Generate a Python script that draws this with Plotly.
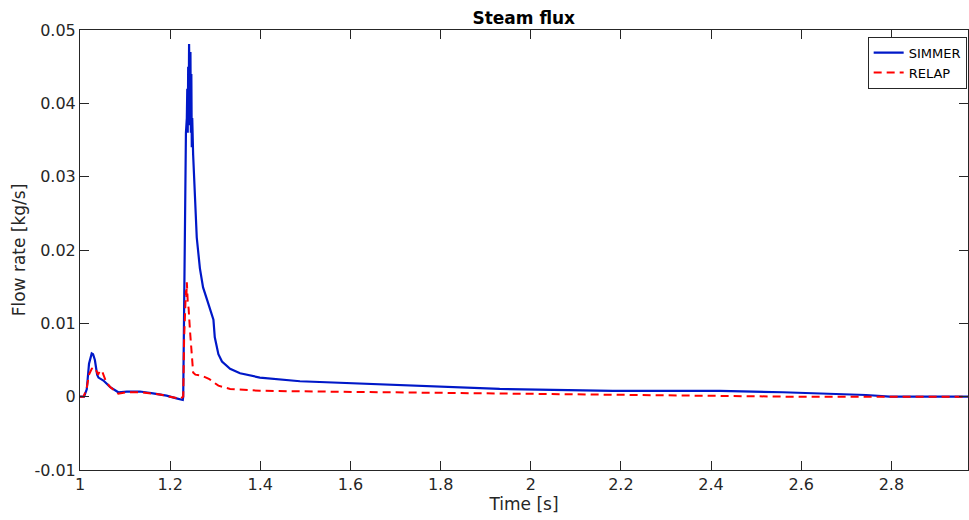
import plotly.graph_objects as go

# SIMMER (blue solid)
simmer_t = [1.000, 1.009, 1.015, 1.020, 1.026, 1.029, 1.033, 1.038, 1.041, 1.052,
            1.067, 1.085, 1.104, 1.133, 1.162, 1.192, 1.214, 1.228, 1.229, 1.231,
            1.233, 1.235, 1.237, 1.238, 1.239, 1.240, 1.241, 1.242, 1.244, 1.245,
            1.246, 1.247, 1.248, 1.249, 1.251, 1.255, 1.259, 1.266, 1.273, 1.282,
            1.292, 1.296, 1.299, 1.307, 1.315, 1.333, 1.355, 1.399, 1.488, 1.532,
            1.599, 1.710, 1.931, 2.182, 2.375, 2.419, 2.559, 2.641, 2.744, 2.796,
            2.970]
simmer_v = [0.0000, 0.0000, 0.0010, 0.0045, 0.0059, 0.0058, 0.0050, 0.0030, 0.0026, 0.0022,
            0.0013, 0.0006, 0.0007, 0.0007, 0.00045, 0.00014, -0.00023, -0.00045, 0.0000, 0.0150,
            0.0270, 0.0360, 0.0380, 0.0420, 0.0360, 0.0450, 0.0380, 0.0481, 0.0370, 0.0470,
            0.0360, 0.0440, 0.0340, 0.0380, 0.0330, 0.0260, 0.0217, 0.0175, 0.0149, 0.0132,
            0.0113, 0.0105, 0.0081, 0.0058, 0.0048, 0.0038, 0.0032, 0.0026, 0.0021, 0.0020,
            0.0018, 0.0015, 0.00105, 0.0008, 0.00075, 0.0008, 0.0006, 0.0004, 0.00023, 0.0000,
            0.0000]

# RELAP (red dashed)
relap_t = [1.000, 1.008, 1.015, 1.020, 1.026, 1.030, 1.035, 1.040, 1.045, 1.050,
           1.058, 1.067, 1.085, 1.104, 1.133, 1.177, 1.222, 1.229, 1.231, 1.233,
           1.235, 1.236, 1.237, 1.239, 1.241, 1.244, 1.247, 1.251, 1.256, 1.269,
           1.287, 1.296, 1.307, 1.333, 1.399, 1.532, 1.931, 2.153, 2.375, 2.574,
           2.970]
relap_v = [0.0000, 0.0000, 0.0012, 0.0030, 0.0038, 0.0040, 0.0037, 0.0030, 0.0036, 0.0033,
           0.0020, 0.0013, 0.0004, 0.0006, 0.0006, 0.0003, -0.0003, 0.0000, 0.0080, 0.0130,
           0.0145, 0.0135, 0.0156, 0.0130, 0.0120, 0.0090, 0.0063, 0.0033, 0.0030, 0.0029,
           0.0024, 0.0020, 0.0015, 0.00105, 0.0008, 0.0007, 0.00045, 0.00036, 0.00014, 0.0000,
           0.0000]

x_ticks = [1, 1.2, 1.4, 1.6, 1.8, 2, 2.2, 2.4, 2.6, 2.8]
x_labels = ["1", "1.2", "1.4", "1.6", "1.8", "2", "2.2", "2.4", "2.6", "2.8"]
y_ticks = [-0.01, 0, 0.01, 0.02, 0.03, 0.04, 0.05]
y_labels = ["-0.01", "0", "0.01", "0.02", "0.03", "0.04", "0.05"]

FONT = "DejaVu Sans"
AX = "#262626"

fig = go.Figure()
fig.add_trace(go.Scatter(x=simmer_t, y=simmer_v, mode="lines", name="SIMMER",
                         line=dict(color="#0018c8", width=2.2)))
fig.add_trace(go.Scatter(x=relap_t, y=relap_v, mode="lines", name="RELAP",
                         line=dict(color="#ff0000", width=2, dash="8px,5px")))

axis_common = dict(showline=True, linecolor=AX, linewidth=1, mirror="ticks",
                   ticks="inside", ticklen=9, tickcolor=AX, showgrid=False,
                   zeroline=False, tickfont=dict(family=FONT, size=16, color=AX))

fig.update_layout(
    width=969, height=520,
    margin=dict(l=80, r=1, t=30, b=50),
    paper_bgcolor="white", plot_bgcolor="white",
    title=dict(text="<b>Steam flux</b>", x=0.5405, xanchor="center", y=0.965, yanchor="middle",
               font=dict(family=FONT, size=17, color="black")),
    legend=dict(x=0.9985, xanchor="right", y=0.985, yanchor="top",
                bgcolor="white", bordercolor=AX, borderwidth=1,
                font=dict(family=FONT, size=13, color="black"),
                itemwidth=30, tracegroupgap=0),
    showlegend=True,
)
fig.update_xaxes(range=[1, 2.97], tickvals=x_ticks, ticktext=x_labels,
                 title=dict(text="Time [s]", font=dict(family=FONT, size=17, color=AX), standoff=4),
                 **axis_common)
fig.update_yaxes(range=[-0.01, 0.05], tickvals=y_ticks, ticktext=y_labels,
                 title=dict(text="Flow rate [kg/s]", font=dict(family=FONT, size=17, color=AX), standoff=4),
                 **axis_common)

fig.write_html("out.html")
